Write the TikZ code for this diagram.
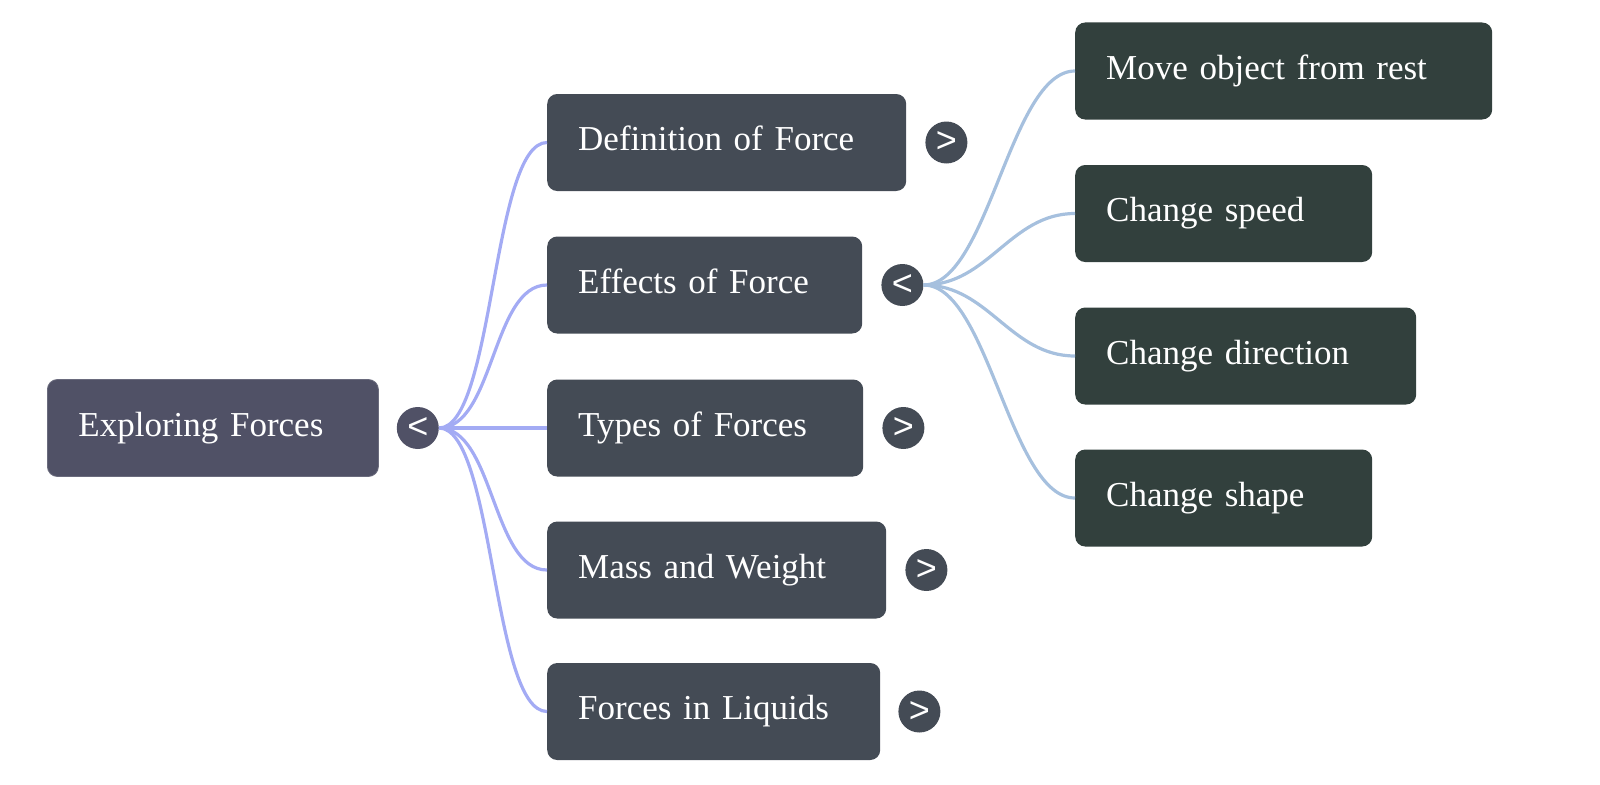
\documentclass[tikz,border=0pt]{standalone}
\usepackage{fontspec}
\setmainfont{Liberation Serif}
\newfontfamily\togglefont{Liberation Sans}
\usetikzlibrary{calc}
\definecolor{rootfill}{HTML}{505166}
\definecolor{lonefill}{HTML}{444B55}
\definecolor{ltwofill}{HTML}{32403D}
\definecolor{rootedge}{HTML}{A3ABF4}
\definecolor{effedge}{HTML}{A6C0DE}
\tikzset{
  mmbox/.style={rectangle, rounded corners=10pt, anchor=west, text=white,
    font=\fontsize{35}{40}\selectfont, inner xsep=31pt, inner ysep=0pt,
    minimum height=97pt, text height=24pt, text depth=8pt, align=left},
  rootbox/.style={mmbox, fill=rootfill, draw=rootfill!85!white, line width=0.8pt},
  lonebox/.style={mmbox, fill=lonefill},
  ltwobox/.style={mmbox, fill=ltwofill},
  toggle/.style={circle, minimum size=42pt, inner sep=0pt, text=white,
    font=\togglefont\fontsize{36}{36}\selectfont},
  redge/.style={draw=rootedge, line width=3.2pt},
  eedge/.style={draw=effedge, line width=3.2pt}
}
\begin{document}
\begin{tikzpicture}[x=1pt,y=-1pt]
\useasboundingbox (0,0) rectangle (1600,784);
% root
\node[rootbox, text width=269pt] (root) at (47,428) {Exploring Forces};
\node[toggle, fill=rootfill] (rt) at ($(root.east)+(39,0)$) {<};
% level 1
\node[lonebox, text width=297pt] (def) at (547,142.5) {Definition of Force};
\node[lonebox, text width=253pt] (eff) at (547,285) {Effects of Force};
\node[lonebox, text width=254pt] (typ) at (547,428) {Types of Forces};
\node[lonebox, text width=277pt] (mass) at (547,570) {Mass and Weight};
\node[lonebox, text width=271pt] (liq) at (547,711.5) {Forces in Liquids};
\node[toggle, fill=lonefill] (tdef) at ($(def.east)+(40,0)$) {>};
\node[toggle, fill=lonefill] (teff) at ($(eff.east)+(40,0)$) {<};
\node[toggle, fill=lonefill] (ttyp) at ($(typ.east)+(40,0)$) {>};
\node[toggle, fill=lonefill] (tmass) at ($(mass.east)+(40,0)$) {>};
\node[toggle, fill=lonefill] (tliq) at ($(liq.east)+(39,0)$) {>};
% level 2
\node[ltwobox, text width=355pt] (move) at (1075,71) {Move object from rest};
\node[ltwobox, text width=235pt] (speed) at (1075,213.5) {Change speed};
\node[ltwobox, text width=279pt] (dir) at (1075,356) {Change direction};
\node[ltwobox, text width=235pt] (shape) at (1075,498) {Change shape};
% edges from root
\foreach \t in {def,eff,typ,mass,liq}{
  \draw[redge] (rt.east) .. controls +(55,0) and +(-55,0) .. (\t.west);
}
% edges from effects
\foreach \t in {move,speed,dir,shape}{
  \draw[eedge] (teff.east) .. controls +(65,0) and +(-65,0) .. (\t.west);
}
\end{tikzpicture}
\end{document}
